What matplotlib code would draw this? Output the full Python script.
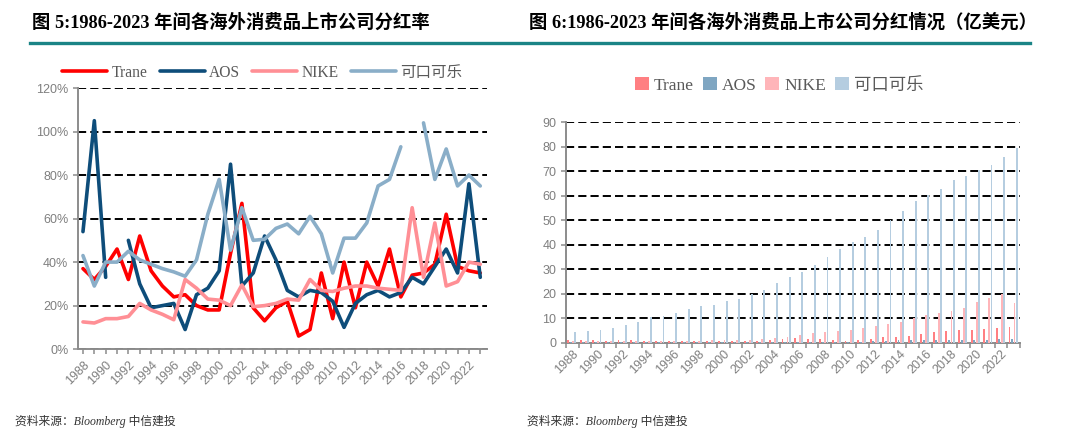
import matplotlib

matplotlib.use("Agg")
import matplotlib.pyplot as plt
import numpy as np
from matplotlib.font_manager import FontProperties
from matplotlib.lines import Line2D

plt.rcParams["font.family"] = ["Liberation Sans", "Noto Sans CJK SC", "DejaVu Sans"]

years = list(range(1988, 2024))
nan = np.nan

# payout ratio (%)
trane_ratio = [37, 32, 38, 46, 32, 52, 36, 29, 24, 25, 20, 18, 18, 44, 67, 19, 13, 19, 22, 6,
               9, 35, 14, 40, 19, 40, 29, 46, 24, 34, 35, 39, 62, 38, 36, 35]
aos_ratio = [54, 105, 33, nan, 50, 30, 19, 20, 21, 9, 25, 28, 36, 85, 29, 35, 52, 41, 27, 24,
             27, 26, 22, 10, 21, 25, 27, 24, 26, 33, 30, 38, 46, 35, 76, 33]
nike_ratio = [12.5, 12, 14, 14, 15, 21, 18, 16, 13.5, 32, 28, 23, 22.5, 20, 29.5, 19.5, 20, 21,
              23, 22.5, 32, 27, 26.5, 28, 29, 29, 28, 27.5, 27, 65, 33, 58, 29, 31, 40, 39]
coke_ratio = [43, 29, 40, 40, 45, 41, 39, 37, 35.5, 33.5, 41, 62, 78, 45.5, 65, 50, 50.5, 55.5,
              57.5, 53, 61, 53, 35, 51, 51, 58, 75, 78, 93, nan, 104, 78, 92, 75, 80, 75]

# dividends (100m USD)
trane_div = [1.2, 1.1, 1.0, 0.9, 1.0, 1.0, 0.9, 0.9, 0.9, 0.8, 0.8, 0.8, 0.8, 0.8, 0.8, 0.9,
             1.2, 1.7, 2.0, 1.7, 1.6, 1.2, 0.8, 1.2, 1.6, 2.2, 2.5, 2.7, 3.4, 4.2, 4.8, 5.2,
             5.2, 5.6, 6.1, 6.5]
aos_div = [0.1, 0.1, 0.1, 0.1, 0.1, 0.1, 0.1, 0.1, 0.1, 0.1, 0.1, 0.1, 0.1, 0.1, 0.2, 0.2,
           0.2, 0.2, 0.2, 0.2, 0.2, 0.2, 0.3, 0.4, 0.5, 0.8, 1.2, 1.1, 1.2, 1.1, 1.3, 1.3,
           1.2, 1.2, 1.7, 1.7]
nike_div = [0.5, 0.6, 0.6, 0.7, 0.7, 0.8, 0.8, 0.7, 0.7, 0.8, 0.9, 1.0, 1.0, 1.2, 1.2, 1.6,
            2.0, 2.5, 3.3, 3.8, 4.4, 4.8, 5.2, 6.0, 7.0, 7.7, 8.6, 10.0, 11.3, 12.3, 13.1, 14.3,
            16.5, 18.2, 20.0, 16.1]
coke_div = [4.2, 4.8, 5.2, 6.0, 7.4, 8.6, 10.4, 10.9, 12.2, 13.9, 14.8, 15.6, 16.9, 17.9, 19.9,
            21.6, 24.3, 26.8, 29.1, 31.7, 35.2, 38.3, 41.0, 43.0, 45.9, 50.0, 53.7, 57.8, 60.5,
            63.0, 66.4, 68.1, 70.4, 72.5, 76.0, 79.6]

names = ["Trane", "AOS", "NIKE", "可口可乐"]
line_colors = ["#ff0000", "#0e4d7a", "#ff8f95", "#8aaec8"]
bar_colors = ["#ff7f82", "#7fa6c2", "#ffb5b9", "#b5cde0"]

GRAY = "#7f7f7f"
AXIS = "#8c8c8c"
serif_cjk = ["Liberation Serif", "Noto Sans CJK SC"]
year_labels = [str(y) for y in years[::2]]

fig = plt.figure(figsize=(10.8, 4.47), dpi=100)

# titles and underline
title_font = FontProperties(family=serif_cjk, weight="bold", size=13.2)
fig.text(0.030, 0.950, "图 5:1986-2023 年间各海外消费品上市公司分红率",
         fontproperties=title_font, va="center", ha="left")
fig.text(0.490, 0.950, "图 6:1986-2023 年间各海外消费品上市公司分红情况（亿美元）",
         fontproperties=title_font, va="center", ha="left")
fig.add_artist(Line2D([0.028, 0.954], [0.903, 0.903], color="#1a8486", lw=2.4,
                      transform=fig.transFigure))

foot_font = FontProperties(family=serif_cjk, style="italic", size=8.5)
fig.text(0.014, 0.056, "资料来源：Bloomberg 中信建投", fontproperties=foot_font,
         color="#333333", va="center")
fig.text(0.488, 0.056, "资料来源：Bloomberg 中信建投", fontproperties=foot_font,
         color="#333333", va="center")


def style_axes(ax):
    for s in ["top", "right"]:
        ax.spines[s].set_visible(False)
    for s in ["left", "bottom"]:
        ax.spines[s].set_color(AXIS)
        ax.spines[s].set_linewidth(1.4)
    ax.tick_params(axis="both", which="both", colors=AXIS, labelcolor=GRAY, labelsize=9,
                   length=3.5, width=1.1)
    ax.set_axisbelow(True)
    ax.grid(axis="y", color="black", lw=1.4, linestyle=(0, (4.2, 2.1)))


# left: payout ratio lines
ax1 = fig.add_axes([0.0722, 0.219, 0.3788, 0.584])
for vals, c, n in zip([trane_ratio, aos_ratio, nike_ratio, coke_ratio], line_colors, names):
    ax1.plot(years, vals, color=c, lw=2.6, label=n, solid_joinstyle="round",
             solid_capstyle="round")
style_axes(ax1)
ax1.set_yticks(range(0, 121, 20))
ax1.set_yticklabels([f"{v}%" for v in range(0, 121, 20)])
ax1.set_xticks(years[::2])
ax1.set_xticklabels(year_labels, rotation=45, ha="right", rotation_mode="anchor")
ax1.set_xticks(years, minor=True)
ax1.set_ylim(0, 120)
ax1.set_xlim(1987.56, 2023.6)
ax1.legend(loc="center", bbox_to_anchor=(0.45, 1.058), ncol=4, frameon=False,
           prop=FontProperties(family=serif_cjk, size=11.2), labelcolor="#595959",
           handlelength=2.9, columnspacing=0.8, handletextpad=0.25, borderaxespad=0)

# right: dividend bars
ax2 = fig.add_axes([0.524, 0.2333, 0.4204, 0.4927])
x = np.arange(len(years))
offsets = [-0.33, -0.13, 0.07, 0.24]
for vals, c, n, off in zip([trane_div, aos_div, nike_div, coke_div], bar_colors, names, offsets):
    ax2.bar(x + off, vals, width=0.15, color=c, label=n, zorder=3)
style_axes(ax2)
ax2.set_yticks(range(0, 91, 10))
ax2.set_xticks(x[::2])
ax2.set_xticklabels(year_labels, rotation=45, ha="right", rotation_mode="anchor")
ax2.set_xticks(np.arange(len(years) + 1) - 0.5, minor=True)
ax2.tick_params(axis="x", which="major", length=0)
ax2.set_ylim(0, 90)
ax2.set_xlim(-0.5, len(years) - 0.5)
ax2.legend(loc="center", bbox_to_anchor=(0.47, 1.168), ncol=4, frameon=False,
           prop=FontProperties(family=serif_cjk, size=12.5), labelcolor="#595959",
           handlelength=0.8, handleheight=0.8, columnspacing=0.5, handletextpad=0.3,
           borderaxespad=0)

fig.savefig("out.png", dpi=100)
